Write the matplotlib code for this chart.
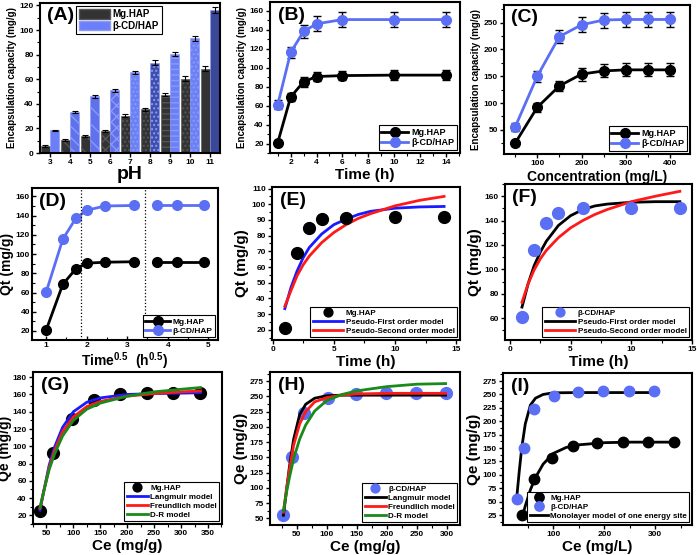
import numpy as np
import matplotlib
matplotlib.use("Agg")
import matplotlib.pyplot as plt
from matplotlib.patches import Patch
from matplotlib.ticker import AutoMinorLocator

plt.rcParams['font.family'] = ['Liberation Sans', 'DejaVu Sans']
plt.rcParams['font.weight'] = 'bold'
plt.rcParams['axes.labelweight'] = 'bold'
plt.rcParams['mathtext.fontset'] = 'custom'
plt.rcParams['mathtext.bf'] = 'Liberation Sans:bold'
plt.rcParams['mathtext.rm'] = 'Liberation Sans:bold'
plt.rcParams['mathtext.default'] = 'bf'

BLUE = '#5b6ff5'

# (A) pH effect
ph = [3, 4, 5, 6, 7, 8, 9, 10, 11]
ph_mg = [5.5, 10.5, 14, 18, 30.5, 35.5, 47.5, 60.5, 68.5]
ph_cd = [18.5, 33, 46, 51, 65.5, 73.5, 80.5, 93.5, 116]
ph_mg_err = [0.8, 0.8, 0.8, 0.8, 1.0, 1.2, 1.5, 1.8, 2.0]
ph_cd_err = [0.6, 0.8, 1.0, 1.2, 1.5, 1.8, 2.0, 2.0, 2.5]

# (B) contact time
time_h = [1, 2, 3, 4, 6, 10, 14]
t_mg = [21, 69, 85, 90.5, 91.5, 92, 92]
t_cd = [61, 116, 138, 146, 150.5, 150.5, 150.5]
t_mg_err = [3, 4, 5, 5, 5, 5, 5]
t_cd_err = [5, 6, 7, 8, 8, 8, 8]

# (C) initial concentration
conc = [50, 100, 150, 200, 250, 300, 350, 400]
c_mg = [25, 92, 132, 154, 160, 162, 162, 162]
c_cd = [55, 150, 224, 246, 255, 256, 256, 256]
c_mg_err = [5, 8, 10, 12, 12, 12, 12, 12]
c_cd_err = [8, 10, 12, 14, 14, 14, 14, 14]

# (D) intra-particle diffusion
sqt_1 = [1.0, 1.41, 1.73, 2.0, 2.45, 3.16]
sqt_2 = [3.74, 4.24, 4.9]
d_mg_1 = [21, 68.5, 84.5, 90.5, 91.5, 92]
d_mg_2 = [92, 92, 92]
d_cd_1 = [60.5, 115.5, 137, 145.5, 150, 150.5]
d_cd_2 = [150.5, 150.5, 150.5]
d_dividers = [1.87, 3.45]

# (E), (F) kinetic models
fit_t = [1, 1.5, 2, 2.5, 3, 4, 5, 6, 7, 8, 10, 12, 14]
e_pfo = [33.5, 47, 57.5, 66, 72.5, 81, 87, 90.5, 93.5, 95.5, 97.5, 98.3, 98.6]
e_pso = [35, 45, 54.5, 61.5, 67, 75.5, 82, 87, 91, 94, 99, 102.5, 105]
f_pfo = [69, 88, 103, 114, 123, 136, 144, 149, 152, 153.5, 155, 155.5, 155.5]
f_pso = [73, 88, 99.5, 108.5, 115.5, 126, 134, 140, 145, 149, 155.5, 160, 164]

# (G), (H), (I) isotherms
ce_mg = [38, 63, 97, 138, 186, 236, 285, 336]
qe_mg = [25, 92, 132, 154, 160, 162, 162, 162]
ce_cd = [28, 42, 62, 102, 148, 198, 248, 298]
qe_cd = [55, 150, 223, 247, 254, 256, 256, 256]

g_ce = [38, 45, 55, 65, 80, 100, 125, 150, 200, 250, 300, 336]
g_lang = [26, 48, 78, 99, 122, 140, 151, 156, 160, 161, 161.5, 162]
g_freu = [28, 48, 75, 95, 117, 134, 146, 152, 158, 161, 163, 164]
g_dr = [29, 48, 73, 91, 112, 130, 143, 150, 158, 163, 166, 168]

h_ce = [28, 33, 38, 45, 55, 65, 80, 100, 125, 150, 200, 250, 298]
h_lang = [55, 95, 135, 180, 220, 237, 247, 251, 252, 252, 252, 252, 252]
h_freu = [60, 98, 130, 170, 205, 225, 241, 248, 252, 254, 255, 255, 255]
h_dr = [62, 92, 117, 148, 180, 203, 226, 243, 253, 259, 266, 270, 271]

i_ce_cd = [28, 33, 38, 45, 55, 65, 80, 100, 150, 200, 250, 298]
i_fit_cd = [55, 105, 150, 195, 230, 243, 250, 253, 253.5, 253.5, 253.5, 253.5]
i_ce_mg = [40, 45, 55, 65, 80, 100, 125, 150, 200, 250, 300, 336]
i_fit_mg = [25, 42, 72, 95, 120, 140, 151, 156, 160, 161, 161, 161]


W, H = 697, 555
fig = plt.figure(figsize=(W / 100, H / 100), dpi=100)


def add_ax(l, r, t, b):
    return fig.add_axes([l / W, 1 - b / H, (r - l) / W, (b - t) / H])


def style(ax, label):
    for s in ax.spines.values():
        s.set_linewidth(1.5)
    ax.tick_params(which='major', direction='out', labelsize=6, width=1, length=3, pad=1.5)
    ax.tick_params(which='minor', direction='out', width=0.8, length=2)
    ax.xaxis.set_minor_locator(AutoMinorLocator(2))
    ax.yaxis.set_minor_locator(AutoMinorLocator(2))
    ax.text(0.04, 0.97, label, transform=ax.transAxes, fontsize=14,
            fontweight='bold', va='top', ha='left')


def legend(ax, handles=None, loc='lower right', size=6.5, hl=2.5, **kw):
    opts = dict(loc=loc, prop={'size': size, 'weight': 'bold'},
                fancybox=False, edgecolor='black', framealpha=1,
                borderpad=0.3, labelspacing=0.15, handlelength=hl,
                handletextpad=0.3, borderaxespad=0.35, numpoints=1)
    opts.update(kw)
    if handles is not None:
        opts['handles'] = handles
    leg = ax.legend(**opts)
    leg.get_frame().set_linewidth(0.8)
    return leg


# ---------- (A)
ax = add_ax(40, 220, 3, 153)
mg_cols = ['#333333'] * 9
cd_cols = ['#6b7ff8', '#5f72ec', '#5f72ec', '#6070ea', '#6b80f5',
           '#3f4ea8', '#6b80f5', '#6b80f5', '#3a4899']
hatches = ['', '\\\\\\', '\\\\', 'xxx', '....', '....', '---', '....', '']
x = np.array(ph)
for i in range(len(ph)):
    ax.bar(x[i] - 0.24, ph_mg[i], 0.46, color=mg_cols[i], edgecolor='#555555',
           hatch=hatches[i], linewidth=0.4)
    ax.bar(x[i] + 0.24, ph_cd[i], 0.46, color=cd_cols[i], edgecolor='#8a9af8',
           hatch=hatches[i], linewidth=0.4)
ax.errorbar(x - 0.24, ph_mg, yerr=ph_mg_err, fmt='none', ecolor='black',
            elinewidth=0.8, capsize=2.5, capthick=0.8)
ax.errorbar(x + 0.24, ph_cd, yerr=ph_cd_err, fmt='none', ecolor='black',
            elinewidth=0.8, capsize=2.5, capthick=0.8)
ax.set_xlim(2.5, 11.5)
ax.set_ylim(0, 122)
ax.set_xticks(ph)
ax.set_yticks(range(0, 121, 20))
style(ax, '(A)')
ax.xaxis.set_minor_locator(plt.NullLocator())
ax.set_xlabel('pH', fontsize=14, labelpad=0)
ax.set_ylabel('Encapsulation capacity (mg/g)', fontsize=7, labelpad=2)
legend(ax, handles=[Patch(facecolor='#333333', edgecolor='#555555', label='Mg.HAP'),
                    Patch(facecolor='#6b7ff8', edgecolor='#8a9af8', label='β-CD/HAP')],
       loc='upper left', size=7, hl=3.2, handleheight=1.1, bbox_to_anchor=(0.18, 1.0))

# ---------- (B)
ax = add_ax(270, 460, 2, 153)
ax.errorbar(time_h, t_mg, yerr=t_mg_err, fmt='none', ecolor='black', elinewidth=1, capsize=3)
ax.errorbar(time_h, t_cd, yerr=t_cd_err, fmt='none', ecolor='black', elinewidth=1, capsize=3)
ax.plot(time_h, t_mg, 'o-', color='black', ms=7, lw=2, label='Mg.HAP')
ax.plot(time_h, t_cd, 'o-', color=BLUE, ms=7, lw=2, label='β-CD/HAP')
ax.set_xlim(0.4, 15.1)
ax.set_ylim(10, 169)
ax.set_xticks(range(2, 15, 2))
ax.set_yticks(range(20, 161, 20))
style(ax, '(B)')
ax.set_xlabel('Time (h)', fontsize=11, labelpad=1)
ax.set_ylabel('Encapsulation capacity (mg/g)', fontsize=7, labelpad=2)
legend(ax, size=6.5, hl=3.0)

# ---------- (C)
ax = add_ax(504, 690, 5, 154)
ax.errorbar(conc, c_mg, yerr=c_mg_err, fmt='none', ecolor='black', elinewidth=1, capsize=3)
ax.errorbar(conc, c_cd, yerr=c_cd_err, fmt='none', ecolor='black', elinewidth=1, capsize=3)
ax.plot(conc, c_mg, 'o-', color='black', ms=7, lw=2, label='Mg.HAP')
ax.plot(conc, c_cd, 'o-', color=BLUE, ms=7, lw=2, label='β-CD/HAP')
ax.set_xlim(25, 445)
ax.set_ylim(5, 283)
ax.set_xticks(range(100, 401, 100))
ax.set_yticks(range(50, 251, 50))
style(ax, '(C)')
ax.set_xlabel('Concentration (mg/L)', fontsize=10, labelpad=2)
ax.set_ylabel('Encapsulation capacity (mg/g)', fontsize=7, labelpad=2)
legend(ax, size=6.5, hl=3.0)

# ---------- (D)
ax = add_ax(32, 218, 188, 340)
ax.plot(sqt_1, d_mg_1, 'o-', color='black', ms=7, lw=2, label='Mg.HAP')
ax.plot(sqt_1, d_cd_1, 'o-', color=BLUE, ms=7, lw=2, label='β-CD/HAP')
ax.plot(sqt_2, d_mg_2, 'o-', color='black', ms=7, lw=2)
ax.plot(sqt_2, d_cd_2, 'o-', color=BLUE, ms=7, lw=2)
for xv in d_dividers:
    ax.axvline(xv, color='black', ls=':', lw=0.9)
ax.set_xlim(0.65, 5.24)
ax.set_ylim(10.6, 168.7)
ax.set_xticks(range(1, 6))
ax.set_yticks(range(20, 161, 20))
style(ax, '(D)')
ax.tick_params(which='both', direction='in')
ax.set_xlabel(r'Time$^{0.5}$  (h$^{0.5}$)', fontsize=10, labelpad=1)
ax.set_ylabel('Qt (mg/g)', fontsize=10, labelpad=1)
legend(ax, size=6, hl=3.0)

# ---------- (E)
ax = add_ax(272, 460, 187, 340)
ax.plot(time_h, t_mg, 'o', color='black', ms=8.5, label='Mg.HAP', zorder=3)
ax.plot(fit_t, e_pfo, '-', color='#1a1aff', lw=2, label='Pseudo-First order model')
ax.plot(fit_t, e_pso, '-', color='#ff1a1a', lw=2, label='Pseudo-Second order model')
ax.set_xlim(-0.05, 15.3)
ax.set_ylim(13.5, 111)
ax.set_xticks([0, 5, 10, 15])
ax.set_yticks(range(20, 111, 10))
style(ax, '(E)')
ax.set_xlabel('Time (h)', fontsize=11, labelpad=1)
ax.set_ylabel('Qt (mg/g)', fontsize=11, labelpad=2)
legend(ax, size=5.8, hl=3.8, markerscale=0.75)

# ---------- (F)
ax = add_ax(505, 692, 184, 340)
ax.plot(time_h, t_cd, 'o', color=BLUE, ms=8.5, label='β-CD/HAP', zorder=3)
ax.plot(fit_t, f_pfo, '-', color='black', lw=2, label='Pseudo-First order model')
ax.plot(fit_t, f_pso, '-', color='#ff1a1a', lw=2, label='Pseudo-Second order model')
ax.set_xlim(-0.4, 15)
ax.set_ylim(42, 170)
ax.set_xticks([0, 5, 10, 15])
ax.set_yticks(range(60, 161, 20))
style(ax, '(F)')
ax.set_xlabel('Time (h)', fontsize=11, labelpad=1)
ax.set_ylabel('Qt (mg/g)', fontsize=11, labelpad=2)
legend(ax, size=5.8, hl=3.8, markerscale=0.75)

# ---------- (G)
ax = add_ax(33, 222, 372, 524)
ax.plot(ce_mg, qe_mg, 'o', color='black', ms=8.5, label='Mg.HAP', zorder=2)
ax.plot(g_ce, g_lang, '-', color='#1a1aff', lw=2, label='Langmuir model', zorder=3)
ax.plot(g_ce, g_freu, '-', color='#ff1a1a', lw=2, label='Freundlich model', zorder=3)
ax.plot(g_ce, g_dr, '-', color='#1a8a1a', lw=2, label='D-R model', zorder=3)
ax.set_xlim(25, 376)
ax.set_ylim(10, 186)
ax.set_xticks(range(50, 351, 50))
ax.set_yticks(range(20, 181, 20))
style(ax, '(G)')
ax.set_xlabel('Ce (mg/g)', fontsize=11, labelpad=1)
ax.set_ylabel('Qe (mg/g)', fontsize=10, labelpad=0)
legend(ax, size=5.8, hl=2.6, markerscale=0.75)

# ---------- (H)
ax = add_ax(270, 460, 372, 525)
ax.plot(ce_cd, qe_cd, 'o', color=BLUE, ms=8.5, label='β-CD/HAP', zorder=2)
ax.plot(h_ce, h_lang, '-', color='black', lw=2, label='Langmuir model', zorder=3)
ax.plot(h_ce, h_freu, '-', color='#ff1a1a', lw=2, label='Freundlich model', zorder=3)
ax.plot(h_ce, h_dr, '-', color='#1a8a1a', lw=2, label='D-R model', zorder=3)
ax.set_xlim(5.6, 322)
ax.set_ylim(39, 290)
ax.set_xticks(range(50, 301, 50))
ax.set_yticks(range(50, 276, 25))
style(ax, '(H)')
ax.set_xlabel('Ce (mg/g)', fontsize=11, labelpad=1)
ax.set_ylabel('Qe (mg/g)', fontsize=11, labelpad=1)
legend(ax, size=5.8, hl=2.6, markerscale=0.75)

# ---------- (I)
ax = add_ax(503, 692, 373, 525)
ax.plot(ce_mg, qe_mg, 'o', color='black', ms=7.5, label='Mg.HAP', zorder=3)
ax.plot(ce_cd, qe_cd, 'o', color=BLUE, ms=7.5, label='β-CD/HAP', zorder=3)
ax.plot(i_ce_cd, i_fit_cd, '-', color='black', lw=2, label='Monolayer model of one energy site', zorder=2)
ax.plot(i_ce_mg, i_fit_mg, '-', color='black', lw=2, zorder=2)
ax.set_xlim(1.3, 372)
ax.set_ylim(6.4, 290)
ax.set_xticks([100, 200, 300])
ax.set_yticks(range(25, 276, 25))
style(ax, '(I)')
ax.set_xlabel('Ce (mg/L)', fontsize=11, labelpad=1)
ax.set_ylabel('Qe (mg/g)', fontsize=11, labelpad=1)
legend(ax, size=5.8, hl=2.2, markerscale=0.9)

fig.savefig('out.png', dpi=100)
